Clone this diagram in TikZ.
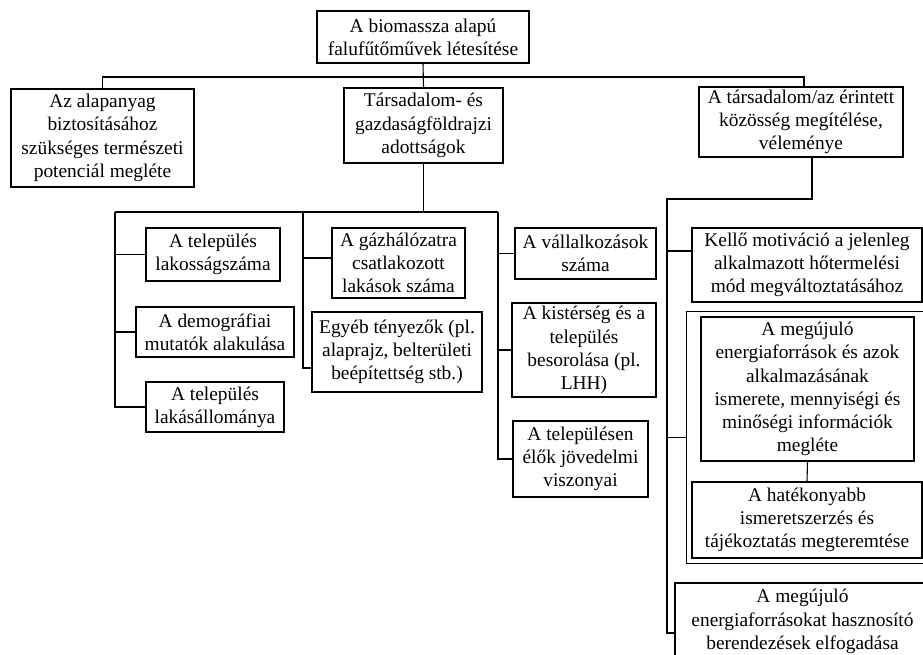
\documentclass[tikz,border=0pt]{standalone}
\usepackage{fontspec}
\setmainfont{Liberation Serif}
\usepackage{tikz}
\usetikzlibrary{positioning, fit}

\begin{document}
\begin{tikzpicture}[
    x=1pt, y=-1pt,
    box/.style={draw, rectangle, align=center, inner sep=2pt, line width=1.2pt, font=\fontsize{19.4}{23.3}\selectfont},
    frame/.style={draw, rectangle, inner sep=5pt, line width=1.2pt},
    link/.style={line width=1.1pt},
    sz/.style 2 args={minimum width=#1pt, minimum height=#2pt}
]
\useasboundingbox (0,0) rectangle (923,654);

% Top level
\node[box, sz={212}{52}] (top) at (423,37) {A biomassza alapú\\falufűtőművek létesítése};

% Second level
\node[box, sz={183}{98}] (alap) at (102.5,138) {Az alapanyag\\biztosításához\\szükséges természeti\\potenciál megléte};
\node[box, sz={159}{75}] (tars) at (423.5,125.5) {Társadalom- és\\gazdaságföldrajzi\\adottságok};
\node[box, sz={204}{70}] (kozos) at (801,122) {A társadalom/az érintett\\közösség megítélése,\\véleménye};

% Social-geographic factors
\node[box, sz={134}{53}] (lakos) at (213,254.5) {A település\\lakosságszáma};
\node[box, sz={158}{50}] (demo) at (215,332) {A demográfiai\\mutatók alakulása};
\node[box, sz={138}{50}] (lakall) at (215,407) {A település\\lakásállománya};
\node[box, sz={133}{70}] (gaz) at (398.5,263) {A gázhálózatra\\csatlakozott\\lakások száma};
\node[box, sz={170}{80}] (egyeb) at (397,352) {Egyéb tényezők (pl.\\alaprajz, belterületi\\beépítettség stb.)};
\node[box, sz={141}{51}] (vall) at (585.5,253.5) {A vállalkozások\\száma};
\node[box, sz={144}{94}] (kist) at (584,350) {A kistérség és a\\település\\besorolása (pl.\\LHH)};
\node[box, sz={135}{76}] (jov) at (580.5,459) {A településen\\élők jövedelmi\\viszonyai};

% Community opinion
\node[box, sz={230}{74}] (kello) at (807,265) {Kellő motiváció a jelenleg\\alkalmazott hőtermelési\\mód megváltoztatásához};
\node[box, sz={213}{144}] (megu) at (807.5,389) {A megújuló\\energiaforrások és azok\\alkalmazásának\\ismerete, mennyiségi és\\minőségi információk\\megléte};
\node[box, sz={230}{76}] (hatek) at (807,520) {A hatékonyabb\\ismeretszerzés és\\tájékoztatás megteremtése};
\node[frame, fit=(megu)(hatek)] (ismeret) {};
\node[box, sz={255}{77}] (elfog) at (802.5,621.5) {A megújuló\\energiaforrásokat hasznosító\\berendezések elfogadása};

% Junctions
\coordinate (j1) at (426,77);
\coordinate (s1) at (115,212);
\coordinate (s2) at (303,212);
\coordinate (s3) at (498,212);
\coordinate (s4) at (667,199);

% Connections
\draw[link] (top.south) -- (tars.north);
\draw[link] (alap.north) |- (j1) -| ([xshift=3pt]kozos.north);
\draw[link] (tars.south) -- (tars.south |- s1);
\draw[link] (s1) -- (s3);

\draw[link] (s1) |- (lakall.west);
\draw[link] (s1 |- lakos.west) -- (lakos.west);
\draw[link] (s1 |- demo.west) -- (demo.west);

\draw[link] (s2) |- ([yshift=-16pt]egyeb.west);
\draw[link] (s2 |- gaz.west) ++(0,-5) -- ([yshift=5pt]gaz.west);

\draw[link] (s3) |- (jov.west);
\draw[link] (s3 |- vall.west) -- (vall.west);
\draw[link] (s3 |- kist.west) -- (kist.west);

\draw[link] ([xshift=11pt]kozos.south) |- (s4) |- ([yshift=-11.5pt]elfog.west);
\draw[link] (s4 |- kello.west) ++(0,-14) -- ([yshift=14pt]kello.west);
\draw[link] (s4 |- ismeret.west) -- (ismeret.west);
\draw[link] (megu.south) -- (hatek.north);

\end{tikzpicture}
\end{document}
